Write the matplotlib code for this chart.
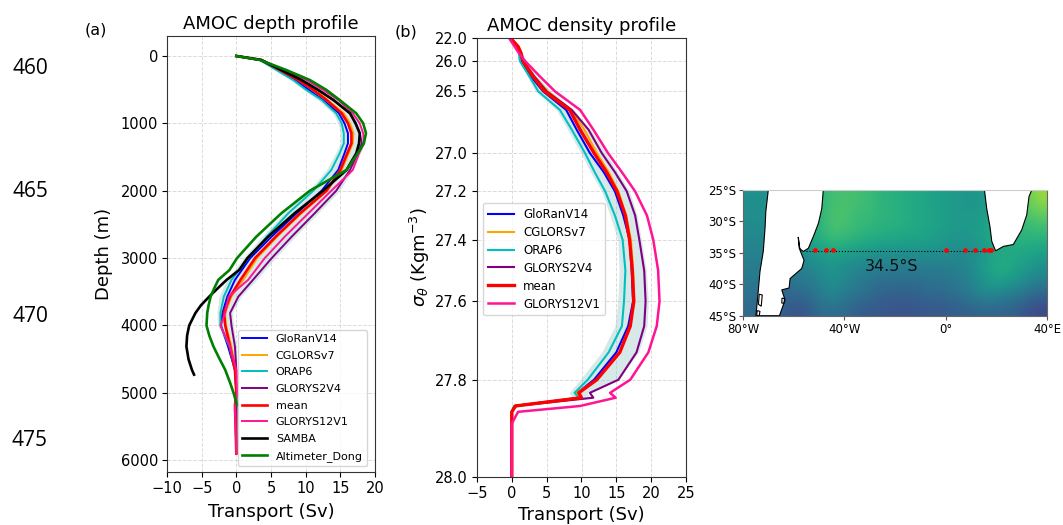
import numpy as np
import matplotlib

matplotlib.use("Agg")
import matplotlib.pyplot as plt  # noqa: E402
from matplotlib.patches import Polygon  # noqa: E402
from matplotlib.ticker import FixedLocator, NullLocator  # noqa: E402

W, H = 1063, 525

# ---- panel (a): transport (Sv) on depth (m)
DEPTH = [0, 59, 208, 356, 504, 653, 851, 1000, 1147, 1296, 1444, 1691, 2000, 2334,
         2680, 3000, 3323, 3570, 3815, 4000, 4312, 4660, 5000, 5183, 5900]
GLORAN_A = [0, 3.4, 6.0, 8.4, 10.5, 12.5, 14.8, 15.6, 16.1, 16.1, 15.6, 14.7, 12.3, 8.7,
            5.1, 2.0, -0.2, -1.3, -2.0, -2.2, -1.2, -0.2, 0, 0, 0]
CGLORS_A = [0, 3.6, 6.4, 9.1, 11.3, 13.2, 15.5, 16.4, 16.9, 16.8, 16.2, 15.2, 13.1, 9.4,
            5.9, 3.0, 1.0, -0.7, -1.6, -1.5, -0.7, -0.1, 0, 0, 0]
ORAP_A = [0, 3.4, 5.8, 8.2, 10.1, 12.3, 14.4, 15.2, 15.5, 15.5, 14.9, 13.7, 11.1, 7.5,
          4.4, 1.7, -0.7, -1.8, -2.3, -2.3, -1.0, -0.2, 0, 0, 0]
GLORYS2_A = [0, 3.6, 6.5, 9.4, 11.8, 14, 16.4, 17.2, 17.8, 18.1, 17.5, 16.4, 14.4, 11.3,
             8.0, 5.1, 2.4, 0.3, -0.9, -0.7, -0.2, 0, 0, 0, 0]
MEAN_A = [0, 3.6, 6.3, 8.9, 11.1, 13, 15.2, 16.1, 16.6, 16.6, 16, 15.0, 13, 9.2,
          5.7, 2.7, 0.6, -0.9, -1.8, -1.6, -0.9, -0.2, 0, -0.2, 0]
GLORYS12_A = [0, 3.6, 7.0, 10.1, 12.5, 14.7, 16.8, 17.8, 18.3, 18.4, 17.7, 16.8, 13.7, 10.4,
              7.0, 4.1, 1.7, -1.1, -1.6, -2.3, -0.9, 0, 0.1, -0.2, 0]
BAND_LO_A = [0, 3.2, 5.4, 7.8, 9.7, 11.8, 13.9, 14.7, 15.0, 15.0, 14.3, 13.0, 10.4, 6.8,
             3.7, 1.0, -1.4, -2.5, -2.8, -2.7, -1.3, -0.3, 0, 0, 0]
BAND_HI_A = [0, 3.8, 6.8, 9.7, 12.2, 14.4, 16.8, 17.6, 18.2, 18.5, 17.9, 16.8, 14.9, 11.8,
             8.5, 5.6, 2.9, 0.7, -0.6, -0.4, 0, 0.1, 0, 0, 0]
SAMBA_DEPTH = [0, 59, 208, 356, 504, 653, 851, 1000, 1147, 1296, 1444, 1691, 2000, 2334,
               2680, 3000, 3178, 3323, 3450, 3570, 3700, 3815, 4000, 4150, 4312, 4500, 4660, 4730]
SAMBA = [0, 3.6, 6.5, 9.4, 11.8, 14, 16.4, 17.2, 17.8, 17.7, 17.3, 15.9, 12.5, 8.4,
         4.6, 1.6, 0.4, -1.4, -2.7, -3.9, -5.1, -5.9, -6.8, -7.1, -7.2, -6.9, -6.4, -6.1]
DONG_DEPTH = [0, 59, 208, 356, 504, 653, 851, 1000, 1147, 1296, 1444, 1691, 2000, 2334,
              2680, 3000, 3178, 3323, 3450, 3570, 3700, 3815, 4000, 4150, 4312, 4480, 4660, 4850, 5000, 5183]
DONG = [0, 3.4, 7.2, 10.6, 13, 14.9, 17.3, 18.3, 18.7, 18.4, 17.5, 15.9, 10.6, 6.5,
        2.9, 0.1, -1.0, -2.6, -3.2, -3.7, -4.0, -4.2, -4.3, -3.9, -3.3, -2.5, -1.6, -0.9, -0.4, 0.1]

# ---- panel (b): transport (Sv) on sigma theta
SIGMA = [22.0, 23.5, 24.6, 26.0, 26.25, 26.5, 26.65, 26.81, 27.0, 27.1, 27.2, 27.3, 27.4, 27.5, 27.6,
         27.663, 27.73, 27.8, 27.827, 27.837, 27.854, 27.866, 27.89, 28.0]
GLORAN_B = [-0.2, 0.9, 1.3, 1.4, 2.7, 4.5, 7.8, 9.3, 11.2, 13.2, 14.8, 16.0, 16.9, 17.2, 17.4,
            16.7, 15.0, 11.8, 9.4, 9.8, 0.4, 0, 0, 0]
CGLORS_B = [-0.2, 1.0, 1.4, 1.7, 3.2, 5.2, 8.5, 10.4, 12.2, 13.9, 15.3, 16.4, 17.1, 17.4, 17.6,
            17.0, 15.5, 12.2, 9.3, 9.7, 0.5, 0, 0, 0]
ORAP_B = [-0.2, 0.8, 1.0, 1.15, 2.5, 3.8, 6.9, 8.6, 10.5, 11.9, 13.4, 14.8, 15.9, 16.3, 16.1,
          15.8, 13.9, 10.9, 9.0, 9.6, 0.3, 0, 0, 0]
GLORYS2_B = [-0.3, 0.8, 1.2, 1.6, 3.2, 5.0, 8.6, 11.0, 12.9, 14.8, 16.5, 17.7, 18.3, 19.0, 19.2,
             19.0, 17.9, 15.3, 11.2, 11.7, 0.6, 0, 0, 0]
MEAN_B = [-0.2, 0.9, 1.3, 1.6, 3.0, 4.7, 8.3, 9.8, 11.8, 13.6, 15.1, 16.3, 16.9, 17.3, 17.5,
          17.0, 15.5, 12.2, 9.6, 10.0, 0.5, 0, 0, 0]
GLORYS12_B = [-0.4, 0.4, 1.0, 1.9, 4.0, 6.2, 9.8, 11.7, 13.8, 15.8, 17.7, 19.4, 20.3, 21.0, 21.2,
              20.8, 19.6, 17.0, 14.1, 14.9, 9.8, 0.9, 0, 0]
BAND_LO_B = [-0.2, 0.7, 0.9, 1.0, 2.2, 3.4, 6.4, 8.0, 9.9, 11.3, 12.9, 14.1, 15.2, 15.4, 15.2,
             14.8, 12.9, 9.8, 8.2, 8.8, 0.1, 0, 0, 0]
BAND_HI_B = [-0.2, 1.0, 1.5, 2.0, 3.6, 5.6, 8.9, 11.3, 13.5, 15.2, 16.9, 18.0, 18.6, 19.3, 19.6,
             19.4, 18.2, 15.2, 10.8, 11.2, 0.9, 0, 0, 0]
SIGMA_TICKS = [22.0, 26.0, 26.5, 27.0, 27.2, 27.4, 27.6, 27.8, 28.0]
# height of each sigma tick on the stretched axis (0 = top, 1 = bottom)
SIGMA_POS = [0.0, 0.0524, 0.1217, 0.2620, 0.3494, 0.4595, 0.6000, 0.7784, 1.0]

# ---- map: surface field on a lon/lat grid, every 5 degrees of longitude
FIELD_LON = list(range(-80, 41, 5))
FIELD_LAT = [-25, -27.5, -30, -32.5, -35, -37.5, -40, -42.5, -45]
FIELD = [
    [.50, .50, .50, .52, .55, .60, .66, .70, .71, .70, .68, .64, .63, .61, .60, .57, .56, .54, .52, .53, .55, .60, .70, .78, .85],
    [.50, .50, .50, .52, .55, .60, .66, .71, .72, .68, .67, .65, .64, .62, .60, .58, .56, .54, .53, .54, .56, .60, .68, .74, .78],
    [.48, .48, .48, .50, .54, .60, .66, .72, .70, .67, .66, .64, .63, .62, .60, .58, .56, .54, .54, .56, .60, .62, .66, .68, .70],
    [.46, .46, .46, .48, .52, .58, .64, .68, .66, .64, .62, .60, .60, .58, .58, .56, .54, .52, .52, .55, .60, .62, .64, .64, .64],
    [.44, .44, .44, .45, .48, .52, .56, .58, .56, .54, .52, .50, .50, .50, .50, .50, .49, .48, .48, .52, .58, .60, .60, .58, .56],
    [.42, .42, .42, .42, .44, .46, .50, .52, .48, .46, .44, .42, .42, .42, .42, .42, .42, .44, .46, .52, .60, .62, .58, .54, .50],
    [.40, .40, .38, .38, .40, .40, .46, .50, .45, .42, .38, .36, .36, .36, .36, .38, .38, .40, .44, .50, .56, .56, .52, .46, .42],
    [.37, .36, .34, .32, .34, .36, .42, .46, .40, .38, .34, .32, .30, .30, .32, .34, .34, .36, .40, .45, .46, .42, .40, .36, .32],
    [.35, .33, .32, .30, .25, .30, .36, .36, .34, .30, .28, .27, .26, .26, .27, .28, .28, .30, .31, .33, .33, .32, .30, .25, .22],
]
SOUTH_AMERICA = [(-70, -25), (-71, -28.5), (-71.3, -31.1), (-72, -34.8), (-73.3, -38),
                 (-74, -41.2), (-74.9, -45), (-65.6, -45), (-63.4, -42.5), (-64.7, -40.9),
                 (-61.8, -40.6), (-61.4, -39.1), (-56.8, -37.5), (-55.9, -36.2), (-57.5, -34.6),
                 (-58.2, -32.5), (-57.8, -34.3), (-56.2, -34.8), (-54.2, -34.3), (-52, -32.2),
                 (-50.2, -30.3), (-48.9, -28), (-48.3, -25)]
AFRICA = [(15.3, -25), (16.2, -28), (17.5, -30.9), (18.2, -33.2), (19.7, -34.7), (22.8, -34),
          (26.7, -33.7), (30, -31.4), (32, -29), (32.9, -26.1), (34, -25)]
ISLANDS = [[(-73.6, -41.6), (-72.4, -41.7), (-72.8, -43.5), (-73.9, -43.2)],
           [(-74.4, -44.2), (-73.3, -44.3), (-73.6, -45), (-74.6, -45)],
           [(-64.6, -42.2), (-63.6, -42.3), (-63.8, -43), (-64.7, -43)]]
SITE_LON = [-51.4, -47.3, -44.4, 0.2, 7.7, 11.4, 15, 17.2, 18]
SITE_LAT = -34.5
LINE_NUMBERS = ["460", "465", "470", "475"]

C_GLORAN, C_CGLORS, C_ORAP = "blue", "orange", "#00bfbf"
C_G2, C_MEAN, C_G12 = "purple", "red", "deeppink"
BAND = "#9cc7c9"


def px_axes(fig, left, top, right, bottom):
    return fig.add_axes([left / W, 1 - bottom / H, (right - left) / W, (bottom - top) / H])


def style(ax):
    ax.grid(color="#cccccc", linestyle="--", linewidth=0.7, alpha=0.7)
    ax.set_axisbelow(True)
    ax.tick_params(labelsize=10.5, length=3.5, pad=3)
    for s in ax.spines.values():
        s.set_color("#333333")


fig = plt.figure(figsize=(W / 100, H / 100), dpi=100)

# panel a
ax = px_axes(fig, 167, 36, 375, 472)
ax.fill_betweenx(DEPTH, BAND_LO_A, BAND_HI_A, color=BAND, alpha=0.4, linewidth=0)
ax.plot(GLORAN_A, DEPTH, color=C_GLORAN, lw=1.4, label="GloRanV14")
ax.plot(CGLORS_A, DEPTH, color=C_CGLORS, lw=1.4, label="CGLORSv7")
ax.plot(ORAP_A, DEPTH, color=C_ORAP, lw=1.4, label="ORAP6")
ax.plot(GLORYS2_A, DEPTH, color=C_G2, lw=1.4, label="GLORYS2V4")
ax.plot(MEAN_A, DEPTH, color=C_MEAN, lw=1.9, label="mean")
ax.plot(GLORYS12_A, DEPTH, color=C_G12, lw=1.4, label="GLORYS12V1")
ax.plot(SAMBA, SAMBA_DEPTH, color="black", lw=1.9, label="SAMBA")
ax.plot(DONG, DONG_DEPTH, color="green", lw=1.9, label="Altimeter_Dong")
ax.set_xlim(-10, 20)
ax.set_ylim(6175, -297)
ax.set_xticks(range(-10, 21, 5))
ax.set_yticks(range(0, 6001, 1000))
ax.set_xlabel("Transport (Sv)", fontsize=13, labelpad=5)
ax.set_ylabel("Depth (m)", fontsize=13, labelpad=5.5)
ax.set_title("AMOC depth profile", fontsize=13, pad=5)
style(ax)
ax.legend(loc="lower left", bbox_to_anchor=(71 / 208, 6 / 436), borderaxespad=0,
          fontsize=8, labelspacing=0.6, handlelength=2.2, handletextpad=0.8, borderpad=0.4)

# panel b, the sigma axis is stretched between its ticks


def sigma_fwd(s):
    return np.interp(s, SIGMA_TICKS, SIGMA_POS)


def sigma_inv(p):
    return np.interp(p, SIGMA_POS, SIGMA_TICKS)


ax = px_axes(fig, 477, 38, 686, 477)
ax.set_yscale("function", functions=(sigma_fwd, sigma_inv))
ax.fill_betweenx(SIGMA, BAND_LO_B, BAND_HI_B, color=BAND, alpha=0.4, linewidth=0)
ax.plot(GLORAN_B, SIGMA, color=C_GLORAN, lw=1.5, label="GloRanV14")
ax.plot(CGLORS_B, SIGMA, color=C_CGLORS, lw=1.5, label="CGLORSv7")
ax.plot(ORAP_B, SIGMA, color=C_ORAP, lw=1.5, label="ORAP6")
ax.plot(GLORYS2_B, SIGMA, color=C_G2, lw=1.5, label="GLORYS2V4")
ax.plot(MEAN_B, SIGMA, color=C_MEAN, lw=2.4, label="mean")
ax.plot(GLORYS12_B, SIGMA, color=C_G12, lw=1.8, label="GLORYS12V1")
ax.set_xlim(-5, 25)
ax.set_ylim(28, 22)
ax.set_xticks(range(-5, 26, 5))
ax.yaxis.set_major_locator(FixedLocator(SIGMA_TICKS))
ax.yaxis.set_minor_locator(NullLocator())
ax.set_yticklabels([f"{s:.1f}" for s in SIGMA_TICKS])
ax.set_xlabel("Transport (Sv)", fontsize=13, labelpad=3.5)
ax.set_ylabel(r"$\sigma_{\theta}$ (Kgm$^{-3}$)", fontsize=13, labelpad=2)
ax.set_title("AMOC density profile", fontsize=13, pad=5)
style(ax)
ax.legend(loc="upper left", bbox_to_anchor=(6 / 209, 274 / 439), borderaxespad=0,
          fontsize=8.5, labelspacing=0.42, handlelength=2.2, handletextpad=0.8, borderpad=0.4)

# map
ax = px_axes(fig, 743, 189.7, 1047, 315.7)
ax.imshow(FIELD, cmap="viridis", vmin=0, vmax=1, aspect="auto", interpolation="bicubic",
          extent=[FIELD_LON[0], FIELD_LON[-1], FIELD_LAT[-1], FIELD_LAT[0]])
ax.add_patch(Polygon(SOUTH_AMERICA, closed=True, fc="white", ec="black", lw=0.8))
ax.add_patch(Polygon(AFRICA, closed=True, fc="white", ec="black", lw=0.8))
for isl in ISLANDS:
    ax.add_patch(Polygon(isl, closed=True, fc="none", ec="black", lw=0.8))
ax.plot([-55, 18], [SITE_LAT - 0.2, SITE_LAT - 0.2], color="black", ls=":", lw=0.8)
ax.plot(SITE_LON, [SITE_LAT] * len(SITE_LON), "o", color="red", ms=3.4, mew=0)
ax.text(-21.5, -37.2, "34.5°S", fontsize=11.5, ha="center", va="center", color="#111111")
ax.set_xlim(-80, 40)
ax.set_ylim(-45, -25)
ax.set_xticks([-80, -40, 0, 40], ["80°W", "40°W", "0°", "40°E"])
ax.set_yticks([-25, -30, -35, -40, -45], ["25°S", "30°S", "35°S", "40°S", "45°S"])
ax.tick_params(labelsize=8.5, length=3, pad=2, color="#555555")
for s in ax.spines.values():
    s.set_color("#666666")
ax.spines["top"].set_color("#cccccc")

# labels outside the axes
fig.text(96 / W, 1 - 30 / H, "(a)", fontsize=11.5, ha="center", va="center")
fig.text(406 / W, 1 - 32 / H, "(b)", fontsize=11.5, ha="center", va="center")
for lab, y in zip(LINE_NUMBERS, [68, 192, 316, 440]):
    fig.text(30 / W, 1 - y / H, lab, fontsize=15, ha="center", va="center", family="Open Sans")

fig.savefig("out.png", dpi=100)
